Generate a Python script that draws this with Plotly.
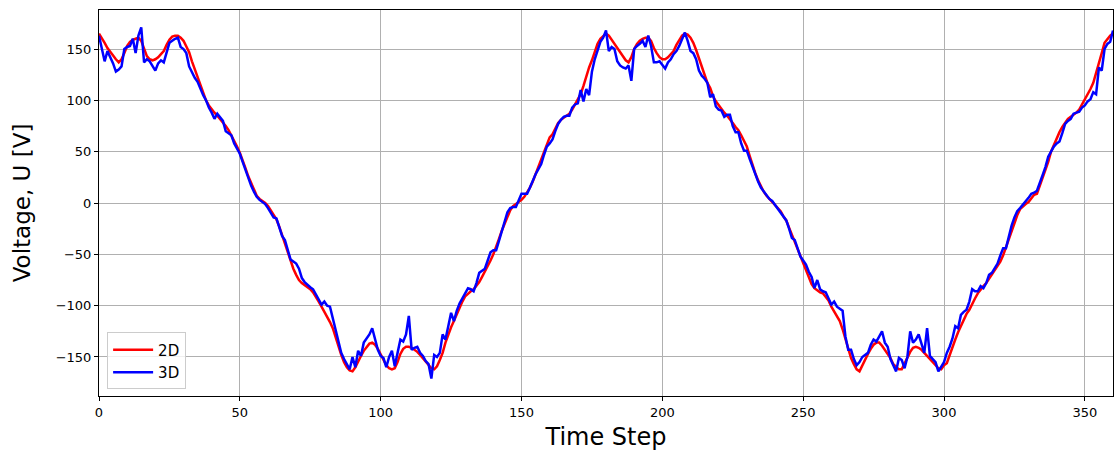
import plotly.graph_objects as go

time_step = list(range(0, 361))

voltage_2d = [
    165, 161, 156, 151, 147, 144, 140, 137, 140, 146,
    153, 157, 159, 160, 161, 158, 150, 143, 140, 139,
    140, 142, 145, 148, 154, 159, 162, 163, 163, 161,
    158, 153, 147, 138, 130, 122, 114, 106, 100, 95,
    91, 88, 85, 82, 79, 75, 71, 66, 61, 55,
    49, 42, 34, 26, 19, 12, 7, 4, 2, 0,
    -3, -7, -11, -16, -23, -31, -40, -49, -57, -64,
    -70, -75, -78, -80, -82, -84, -87, -91, -96, -101,
    -106, -110, -116, -122, -131, -140, -148, -155, -160, -163,
    -164, -160, -154, -149, -144, -140, -137, -136, -138, -142,
    -147, -153, -158, -161, -162, -161, -155, -147, -142, -140,
    -140, -141, -143, -145, -148, -151, -155, -158, -161, -162,
    -159, -153, -146, -136, -128, -121, -115, -108, -102, -96,
    -91, -88, -86, -84, -81, -77, -72, -67, -62, -56,
    -50, -43, -35, -27, -20, -13, -7, -3, -1, 1,
    3, 6, 10, 15, 21, 28, 36, 44, 50, 58,
    64, 67, 73, 78, 81, 83, 85, 87, 91, 96,
    101, 106, 114, 124, 132, 139, 148, 155, 160, 163,
    165, 163, 159, 154, 150, 146, 142, 139, 137, 142,
    150, 155, 158, 160, 161, 161, 158, 151, 146, 142,
    140, 140, 142, 145, 148, 154, 159, 163, 165, 164,
    161, 156, 149, 141, 132, 124, 117, 112, 104, 99,
    95, 91, 88, 85, 82, 78, 74, 71, 66, 60,
    55, 46, 37, 29, 22, 16, 11, 7, 4, 2,
    -2, -5, -8, -13, -17, -24, -31, -39, -46, -53,
    -59, -66, -73, -79, -83, -85, -87, -88, -91, -95,
    -101, -106, -110, -115, -123, -133, -143, -151, -157, -162,
    -164, -158, -152, -147, -142, -138, -136, -136, -139, -143,
    -146, -151, -157, -160, -162, -162, -156, -150, -145, -141,
    -140, -141, -143, -146, -149, -152, -155, -158, -161, -162,
    -158, -156, -148, -139, -133, -126, -120, -114, -108, -104,
    -98, -93, -88, -84, -81, -78, -74, -70, -66, -62,
    -57, -51, -43, -35, -26, -19, -12, -6, -3, -1,
    1, 4, 8, 9, 17, 23, 31, 40, 50, 57,
    64, 69, 74, 78, 82, 84, 86, 88, 91, 96,
    100, 106, 111, 117, 126, 137, 146, 156, 160, 163,
    165,
]

voltage_3d = [
    163, 150, 138, 148, 142, 136, 128, 130, 133, 150,
    152, 153, 160, 146, 163, 171, 137, 140, 138, 134,
    129, 136, 139, 137, 147, 156, 158, 160, 161, 152,
    150, 146, 133, 127, 122, 118, 111, 105, 100, 93,
    88, 82, 87, 84, 80, 70, 68, 66, 58, 53,
    48, 40, 32, 24, 17, 11, 6, 3, 1, -1,
    -5, -9, -14, -15, -24, -32, -36, -47, -55, -57,
    -59, -64, -73, -77, -80, -82, -84, -89, -94, -99,
    -96, -100, -101, -112, -125, -136, -146, -152, -157, -162,
    -150, -160, -144, -149, -136, -132, -128, -122, -133, -143,
    -149, -151, -160, -150, -144, -159, -146, -133, -135, -128,
    -110, -143, -141, -140, -146, -149, -154, -157, -171, -148,
    -150, -146, -128, -133, -120, -107, -115, -105, -98, -93,
    -88, -83, -84, -86, -78, -68, -66, -64, -56, -48,
    -46, -46, -37, -28, -18, -9, -5, -4, -4, 3,
    9, 9, 9, 15, 22, 28, 33, 38, 47, 55,
    58, 62, 70, 77, 81, 84, 85, 85, 93, 96,
    97, 110, 99, 111, 105, 128, 140, 148, 157, 161,
    168, 148, 152, 150, 138, 134, 132, 131, 134, 119,
    150, 153, 155, 158, 152, 163, 153, 137, 137, 138,
    134, 131, 137, 140, 145, 148, 153, 160, 166, 158,
    148, 146, 140, 129, 124, 121, 117, 103, 106, 94,
    91, 90, 84, 86, 86, 75, 69, 69, 58, 51,
    51, 43, 35, 28, 21, 15, 11, 7, 4, 2,
    -2, -5, -9, -13, -17, -25, -34, -36, -44, -52,
    -56, -60, -67, -72, -83, -75, -84, -86, -87, -94,
    -99, -96, -101, -103, -105, -130, -143, -143, -152, -158,
    -155, -150, -148, -146, -138, -133, -135, -130, -125, -136,
    -140, -152, -158, -164, -151, -153, -161, -150, -125, -136,
    -133, -128, -137, -146, -122, -149, -152, -155, -164, -160,
    -155, -146, -140, -132, -120, -122, -109, -106, -104, -96,
    -84, -86, -86, -81, -83, -78, -70, -68, -64, -59,
    -51, -44, -44, -33, -22, -14, -8, -5, -2, 1,
    5, 9, 10, 12, 19, 27, 35, 45, 50, 55,
    58, 60, 68, 77, 80, 82, 87, 88, 89, 93,
    95, 99, 101, 108, 106, 132, 129, 150, 155, 157,
    168,
]

x_ticks = [0, 50, 100, 150, 200, 250, 300, 350]
y_ticks = [-150, -100, -50, 0, 50, 100, 150]

fig = go.Figure()
fig.add_trace(go.Scatter(x=time_step, y=voltage_2d, mode="lines", name="2D",
                         line=dict(color="#ff0000", width=2.5)))
fig.add_trace(go.Scatter(x=time_step, y=voltage_3d, mode="lines", name="3D",
                         line=dict(color="#0000ff", width=2.5)))

axis_common = dict(
    showline=True, linecolor="black", linewidth=1, mirror=True,
    showgrid=True, gridcolor="#b0b0b0", gridwidth=1,
    ticks="outside", ticklen=4, tickcolor="black", tickwidth=1,
    tickfont=dict(family="DejaVu Sans", size=13, color="black"),
    zeroline=False,
)

fig.update_layout(
    width=1115, height=454,
    margin=dict(l=99, r=2, t=10, b=58),
    paper_bgcolor="white", plot_bgcolor="white",
    font=dict(family="DejaVu Sans", color="black"),
    xaxis=dict(range=[0, 360], tickvals=x_ticks,
               title=dict(text="Time Step", font=dict(size=24), standoff=9),
               **axis_common),
    yaxis=dict(range=[-188, 188], tickvals=y_ticks,
               title=dict(text="Voltage, U [V]", font=dict(size=23), standoff=18),
               **axis_common),
    legend=dict(x=0.008, y=0.017, xanchor="left", yanchor="bottom",
                bgcolor="rgba(255,255,255,0.8)", bordercolor="#cccccc", borderwidth=1,
                font=dict(size=15, family="DejaVu Sans"), tracegroupgap=2,
                itemwidth=40),
    showlegend=True,
)

fig.write_html("out.html")
